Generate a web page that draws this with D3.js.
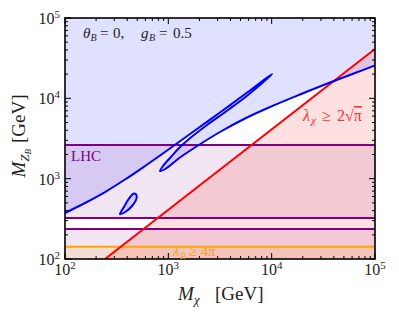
<!DOCTYPE html>
<meta charset="utf-8">
<head>
  <script src="https://d3js.org/d3.v7.min.js"></script>
  <style>
    body { margin: 0; background: #fff; }
    svg text { font-family: "Liberation Serif", "DejaVu Serif", serif; }
  </style>
</head>
<div id="my_dataviz"></div>
<script>
  // relic density contour (folds back on itself), M_chi and M_ZB in GeV
  var contourMchi = [100, 156, 244, 381, 595, 929, 1621, 3162, 6170, 10070,
    9636, 5902, 3780, 2367, 1585, 1269, 1038, 888, 831,
    949, 1297, 1937, 3162, 5521, 9636, 18800, 36700, 64060, 100000];
  var contourMz = [374, 498, 682, 976, 1438, 2148, 3597, 6662, 12520, 20090,
    18970, 11000, 7157, 4656, 3117, 2408, 1808, 1438, 1245,
    1338, 1834, 2587, 3809, 5610, 7798, 11160, 15740, 20670, 25630];
  // small closed island
  var islandMchi = [340, 372, 407, 435, 465, 492, 487, 445, 389];
  var islandMz = [363, 444, 542, 608, 653, 626, 542, 457, 390];
  // lambda_chi >= 2 sqrt(pi) boundary
  var redMchi = [244, 100000];
  var redMz = [100, 41000];
  // LHC excluded bands [low, high] in M_ZB
  var lhcBands = [[324, 2620], [100, 236]];
  var lhcLines = [2620, 324, 236];
  // lambda_B >= 4 pi
  var lambdaBLimit = 142;
  var decades = [1e2, 1e3, 1e4, 1e5];

  var W = 399, H = 319;
  var pLeft = 65, pRight = 375, pTop = 18, pBottom = 259;

  var svg = d3.select("#my_dataviz").append("svg")
    .attr("width", W).attr("height", H);

  var x = d3.scaleLog().domain([1e2, 1e5]).range([pLeft, pRight]);
  var y = d3.scaleLog().domain([1e2, 1e5]).range([pBottom, pTop]);

  svg.append("clipPath").attr("id", "clip").append("rect")
    .attr("x", pLeft).attr("y", pTop).attr("width", pRight - pLeft).attr("height", pBottom - pTop);

  var plot = svg.append("g").attr("clip-path", "url(#clip)");

  var contour = contourMchi.map(function (d, i) { return [d, contourMz[i]]; });
  var island = islandMchi.map(function (d, i) { return [d, islandMz[i]]; });

  var line = d3.line()
    .x(function (d) { return x(d[0]); })
    .y(function (d) { return y(d[1]); })
    .curve(d3.curveCatmullRom.alpha(0.5));
  var loop = d3.line()
    .x(function (d) { return x(d[0]); })
    .y(function (d) { return y(d[1]); })
    .curve(d3.curveCatmullRomClosed.alpha(0.5));

  // blue (overabundant) region
  plot.append("path")
    .attr("d", line(contour) + "L" + x(1e5) + "," + y(1e5) + "L" + x(1e2) + "," + y(1e5) + "Z")
    .attr("fill", "rgb(0,0,255)").attr("fill-opacity", 0.12);
  plot.append("path").attr("d", loop(island))
    .attr("fill", "rgb(0,0,255)").attr("fill-opacity", 0.12);

  // LHC bands
  lhcBands.forEach(function (b) {
    plot.append("rect")
      .attr("x", pLeft).attr("width", pRight - pLeft)
      .attr("y", y(b[1])).attr("height", y(b[0]) - y(b[1]))
      .attr("fill", "rgb(128,0,128)").attr("fill-opacity", 0.1);
  });

  // red region
  plot.append("path")
    .attr("d", "M" + x(redMchi[0]) + "," + y(redMz[0]) + "L" + x(redMchi[1]) + "," + y(redMz[1]) +
      "L" + x(1e5) + "," + y(1e2) + "Z")
    .attr("fill", "rgb(255,0,0)").attr("fill-opacity", 0.12);

  // orange region
  plot.append("rect")
    .attr("x", pLeft).attr("width", pRight - pLeft)
    .attr("y", y(lambdaBLimit)).attr("height", y(1e2) - y(lambdaBLimit))
    .attr("fill", "rgb(255,165,0)").attr("fill-opacity", 0.12);

  // lines
  lhcLines.forEach(function (v) {
    plot.append("line")
      .attr("x1", pLeft).attr("x2", pRight).attr("y1", y(v)).attr("y2", y(v))
      .attr("stroke", "#800080").attr("stroke-width", 2);
  });
  plot.append("line")
    .attr("x1", pLeft).attr("x2", pRight).attr("y1", y(lambdaBLimit)).attr("y2", y(lambdaBLimit))
    .attr("stroke", "#ffa500").attr("stroke-width", 1.8);
  plot.append("line")
    .attr("x1", x(redMchi[0])).attr("y1", y(redMz[0]))
    .attr("x2", x(redMchi[1])).attr("y2", y(redMz[1]))
    .attr("stroke", "#ff0000").attr("stroke-width", 2);
  plot.append("path").attr("d", line(contour))
    .attr("fill", "none").attr("stroke", "#0000ff").attr("stroke-width", 2);
  plot.append("path").attr("d", loop(island))
    .attr("fill", "none").attr("stroke", "#0000ff").attr("stroke-width", 2);

  // frame
  svg.append("rect")
    .attr("x", pLeft).attr("y", pTop).attr("width", pRight - pLeft).attr("height", pBottom - pTop)
    .attr("fill", "none").attr("stroke", "#000").attr("stroke-width", 1.6);

  // ticks, inward on all sides
  var ticks = svg.append("g").attr("stroke", "#000").attr("stroke-width", 1);
  var minors = [];
  decades.slice(0, 3).forEach(function (d) {
    for (var k = 2; k < 10; k++) minors.push(d * k);
  });
  function tick(v, len) {
    ticks.append("line").attr("x1", x(v)).attr("x2", x(v)).attr("y1", pBottom).attr("y2", pBottom - len);
    ticks.append("line").attr("x1", x(v)).attr("x2", x(v)).attr("y1", pTop).attr("y2", pTop + len);
    ticks.append("line").attr("y1", y(v)).attr("y2", y(v)).attr("x1", pLeft).attr("x2", pLeft + len);
    ticks.append("line").attr("y1", y(v)).attr("y2", y(v)).attr("x1", pRight).attr("x2", pRight - len);
  }
  decades.forEach(function (v) { tick(v, 6); });
  minors.forEach(function (v) { tick(v, 3); });

  // tick labels
  decades.forEach(function (v) {
    var e = Math.round(Math.log10(v));
    var t = svg.append("text").attr("x", x(v)).attr("y", pBottom + 16)
      .attr("text-anchor", "middle").attr("font-size", 16).attr("fill", "#222");
    t.append("tspan").text("10");
    t.append("tspan").attr("dy", -6).attr("font-size", 11).text(e);

    var u = svg.append("text").attr("x", pLeft - 5).attr("y", y(v) + 6)
      .attr("text-anchor", "end").attr("font-size", 16).attr("fill", "#222");
    u.append("tspan").text("10");
    u.append("tspan").attr("dy", -6).attr("font-size", 11).text(e);
  });

  // axis labels
  var xl = svg.append("text").attr("y", 300).attr("font-size", 19).attr("fill", "#222");
  xl.append("tspan").attr("x", 178).attr("font-style", "italic").text("M");
  xl.append("tspan").attr("x", 194).attr("font-style", "italic").attr("font-size", 13).attr("dy", 4).text("χ");
  xl.append("tspan").attr("x", 215).attr("dy", -4).text("[GeV]");

  var yl = svg.append("text")
    .attr("transform", "translate(25,136) rotate(-90)")
    .attr("text-anchor", "middle").attr("font-size", 19).attr("fill", "#222");
  yl.append("tspan").attr("font-style", "italic").text("M");
  yl.append("tspan").attr("font-style", "italic").attr("font-size", 13).attr("dy", 4).text("Z");
  yl.append("tspan").attr("font-style", "italic").attr("font-size", 9).attr("dy", 2).text("B");
  yl.append("tspan").attr("dy", -6).attr("dx", 6).text("[GeV]");

  // annotations
  var a = svg.append("text").attr("y", 38).attr("font-size", 15).attr("fill", "#222");
  a.append("tspan").attr("x", 83).attr("font-style", "italic").text("θ");
  a.append("tspan").attr("x", 90.5).attr("font-style", "italic").attr("font-size", 10).attr("dy", 3).text("B");
  a.append("tspan").attr("x", 100).attr("dy", -3).text("=");
  a.append("tspan").attr("x", 113).text("0,");
  a.append("tspan").attr("x", 141).attr("font-style", "italic").text("g");
  a.append("tspan").attr("x", 149).attr("font-style", "italic").attr("font-size", 10).attr("dy", 3).text("B");
  a.append("tspan").attr("x", 159).attr("dy", -3).text("=");
  a.append("tspan").attr("x", 173).text("0.5");

  svg.append("text").attr("x", 71).attr("y", 161).attr("font-size", 15)
    .attr("fill", "#800080").text("LHC");

  var r = svg.append("text").attr("y", 121).attr("font-size", 16).attr("fill", "#f03535");
  r.append("tspan").attr("x", 303).attr("font-style", "italic").text("λ");
  r.append("tspan").attr("x", 311).attr("font-style", "italic").attr("font-size", 11).attr("dy", 3).text("χ");
  r.append("tspan").attr("x", 322).attr("dy", -3).text("≥");
  r.append("tspan").attr("x", 337).text("2√");
  r.append("tspan").style("text-decoration", "overline").text("π");

  var o = svg.append("text").attr("y", 256).attr("font-size", 14).attr("fill", "#f5a020");
  o.append("tspan").attr("x", 173).attr("font-style", "italic").text("λ");
  o.append("tspan").attr("x", 180).attr("font-style", "italic").attr("font-size", 9).attr("dy", 3).text("B");
  o.append("tspan").attr("x", 189).attr("dy", -3).text("≥");
  o.append("tspan").attr("x", 201).text("4π");
</script>
